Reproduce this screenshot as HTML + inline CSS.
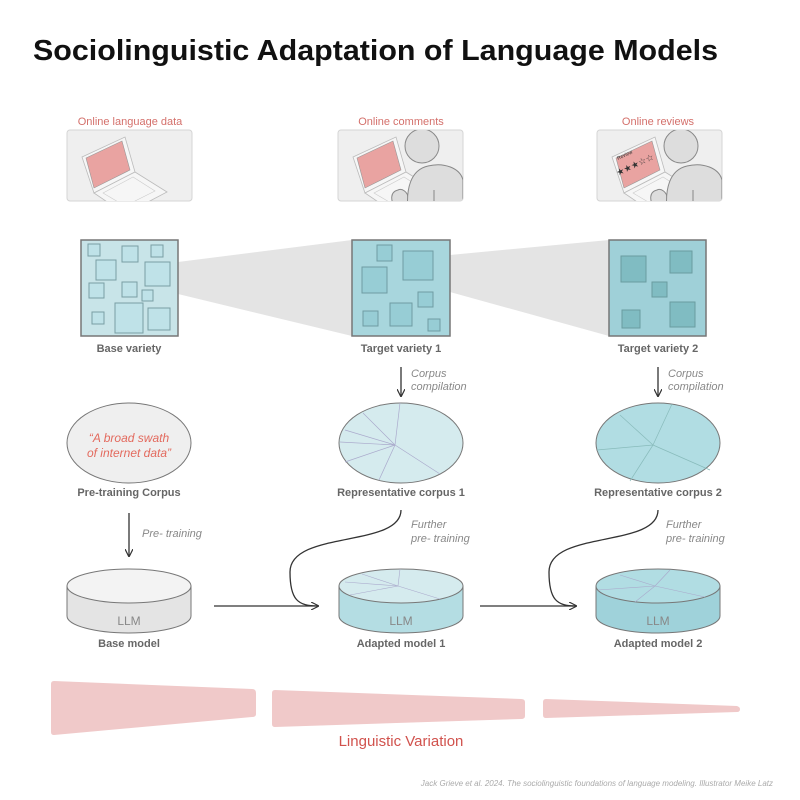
<!DOCTYPE html>
<html><head><meta charset="utf-8"><style>
html,body{margin:0;padding:0;background:#fff}
svg{display:block}
text{font-family:"Liberation Sans",sans-serif}
</style></head><body>
<svg width="800" height="800" viewBox="0 0 800 800" xmlns="http://www.w3.org/2000/svg">
<defs>
<marker id="ah" markerWidth="8" markerHeight="8" refX="7" refY="4" orient="auto" markerUnits="userSpaceOnUse"><path d="M0,0 L8,4 L0,8" fill="none" stroke="#333" stroke-width="1.2"/></marker>
<clipPath id="bc"><rect x="0" y="0" width="125" height="71" rx="3"/></clipPath>
<g id="laptop">
<rect x="0" y="0" width="125" height="71" rx="3" fill="#efefef" stroke="#d4d4d4"/>
<g clip-path="url(#bc)">
<polygon points="15,27 58,7 68,42 27,63" fill="#f6f6f6" stroke="#bbb" stroke-width="0.8"/>
<polygon points="19,28 55,11 63,40 27,58" fill="#e9a3a1" stroke="#999" stroke-width="0.6"/>
<polygon points="27,63 68,42 100,62 58,84" fill="#f6f6f6" stroke="#bbb" stroke-width="0.8"/>
<polygon points="36,63 66,47 88,61 58,76" fill="none" stroke="#ccc" stroke-width="0.6"/>
</g>
</g>
<g id="person">
<g clip-path="url(#bc)">
<path d="M58,80 C52,70 52,62 60,60 C64,58 70,62 70,68 L72,80 Z" fill="#ddd" stroke="#888"/>
<path d="M70,80 C68,60 72,40 90,36 C106,32 122,38 125,50 L125,80 Z" fill="#ddd" stroke="#888"/>
<line x1="96" y1="60" x2="96" y2="72" stroke="#888"/>
<circle cx="84" cy="16" r="17" fill="#ddd" stroke="#888"/>
</g>
</g>
</defs>

<text x="33" y="60" font-size="29" font-weight="bold" fill="#111" textLength="685" lengthAdjust="spacingAndGlyphs">Sociolinguistic Adaptation of Language Models</text>

<g font-size="11" fill="#d4706b" text-anchor="middle">
<text x="130" y="125">Online language data</text>
<text x="401" y="125">Online comments</text>
<text x="658" y="125">Online reviews</text>
</g>
<use href="#laptop" x="67" y="130"/>
<use href="#laptop" x="338" y="130"/><use href="#person" x="338" y="130"/>
<use href="#laptop" x="597" y="130"/><use href="#person" x="597" y="130"/>
<text x="618" y="160" font-size="5" fill="#333" transform="rotate(-25 618 160)">Review</text>
<text x="618" y="176" font-size="9" fill="#333" transform="rotate(-25 618 176)">★★★☆☆</text>

<!-- projection wedges -->
<polygon points="178,262 352,240 352,336 178,294" fill="#e4e4e4"/>
<polygon points="450,255 609,240 609,336 450,292" fill="#e4e4e4"/>

<!-- variety squares -->
<rect x="81" y="240" width="97" height="96" fill="#c8e4e8" stroke="#777" stroke-width="1.5"/>
<g fill="#bfe2e8" stroke="#7a9ea3">
<rect x="88" y="244" width="12" height="12"/><rect x="122" y="246" width="16" height="16"/><rect x="151" y="245" width="12" height="12"/>
<rect x="96" y="260" width="20" height="20"/><rect x="145" y="262" width="25" height="24"/>
<rect x="89" y="283" width="15" height="15"/><rect x="122" y="282" width="15" height="15"/><rect x="142" y="290" width="11" height="11"/>
<rect x="92" y="312" width="12" height="12"/><rect x="115" y="303" width="28" height="30"/><rect x="148" y="308" width="22" height="22"/>
</g>
<rect x="352" y="240" width="98" height="96" fill="#a8d6dd" stroke="#777" stroke-width="1.5"/>
<g fill="#97cdd5" stroke="#6f9ca2">
<rect x="377" y="245" width="15" height="16"/><rect x="403" y="251" width="30" height="29"/><rect x="362" y="267" width="25" height="26"/>
<rect x="418" y="292" width="15" height="15"/><rect x="390" y="303" width="22" height="23"/><rect x="363" y="311" width="15" height="15"/><rect x="428" y="319" width="12" height="12"/>
</g>
<rect x="609" y="240" width="97" height="96" fill="#9fd0d8" stroke="#777" stroke-width="1.5"/>
<g fill="#80bcc2" stroke="#6a9ca0">
<rect x="621" y="256" width="25" height="26"/><rect x="670" y="251" width="22" height="22"/><rect x="652" y="282" width="15" height="15"/>
<rect x="622" y="310" width="18" height="18"/><rect x="670" y="302" width="25" height="25"/>
</g>

<g font-size="11" font-weight="bold" fill="#666" text-anchor="middle">
<text x="129" y="352">Base variety</text>
<text x="401" y="352">Target variety 1</text>
<text x="658" y="352">Target variety 2</text>
<text x="129" y="496">Pre-training Corpus</text>
<text x="401" y="496">Representative corpus 1</text>
<text x="658" y="496">Representative corpus 2</text>
<text x="129" y="647">Base model</text>
<text x="401" y="647">Adapted model 1</text>
<text x="658" y="647">Adapted model 2</text>
</g>

<g stroke="#333" stroke-width="1.3" fill="none">
<line x1="401" y1="367" x2="401" y2="396" marker-end="url(#ah)"/>
<line x1="658" y1="367" x2="658" y2="396" marker-end="url(#ah)"/>
<line x1="129" y1="513" x2="129" y2="556" marker-end="url(#ah)"/>
<line x1="214" y1="606" x2="318" y2="606" marker-end="url(#ah)"/>
<line x1="480" y1="606" x2="576" y2="606" marker-end="url(#ah)"/>
<path d="M401,510 C401,548 290,530 290,572 C290,600 298,606 318,606"/>
<path d="M658,510 C658,548 549,530 549,572 C549,600 557,606 576,606"/>
</g>
<g font-size="11" font-style="italic" fill="#888">
<text x="411" y="377">Corpus</text><text x="411" y="390">compilation</text>
<text x="668" y="377">Corpus</text><text x="668" y="390">compilation</text>
<text x="142" y="537">Pre- training</text>
<text x="411" y="528">Further</text><text x="411" y="542">pre- training</text>
<text x="666" y="528">Further</text><text x="666" y="542">pre- training</text>
</g>

<!-- corpora -->
<ellipse cx="129" cy="443" rx="62" ry="40" fill="#efefef" stroke="#777"/>
<text x="129" y="442" font-size="12" font-style="italic" fill="#e36a5e" text-anchor="middle">“A broad swath</text>
<text x="129" y="457" font-size="12" font-style="italic" fill="#e36a5e" text-anchor="middle">of internet data”</text>
<ellipse cx="401" cy="443" rx="62" ry="40" fill="#d5ebee" stroke="#777"/>
<g stroke="#aac" stroke-width="0.7"><line x1="395" y1="445" x2="363" y2="413"/><line x1="395" y1="445" x2="345" y2="430"/><line x1="395" y1="445" x2="340" y2="442"/><line x1="395" y1="445" x2="345" y2="462"/><line x1="395" y1="445" x2="379" y2="480"/><line x1="395" y1="445" x2="400" y2="403"/><line x1="395" y1="445" x2="440" y2="474"/></g>
<ellipse cx="658" cy="443" rx="62" ry="40" fill="#b1dde3" stroke="#777"/>
<g stroke="#8bb" stroke-width="0.7"><line x1="653" y1="445" x2="620" y2="415"/><line x1="653" y1="445" x2="597" y2="450"/><line x1="653" y1="445" x2="630" y2="481"/><line x1="653" y1="445" x2="710" y2="470"/><line x1="653" y1="445" x2="672" y2="404"/></g>

<!-- cylinders -->
<g stroke="#777">
<path d="M67,586 L67,616 A62,17 0 0 0 191,616 L191,586 Z" fill="#e4e4e4"/>
<ellipse cx="129" cy="586" rx="62" ry="17" fill="#f3f3f3"/>
<path d="M339,586 L339,616 A62,17 0 0 0 463,616 L463,586 Z" fill="#b4dde3"/>
<ellipse cx="401" cy="586" rx="62" ry="17" fill="#d5ebee"/>
<path d="M596,586 L596,616 A62,17 0 0 0 720,616 L720,586 Z" fill="#9fd2da"/>
<ellipse cx="658" cy="586" rx="62" ry="17" fill="#b1dde3"/>
</g>
<g stroke="#aac" stroke-width="0.6">
<line x1="398" y1="586" x2="362" y2="574"/><line x1="398" y1="586" x2="345" y2="582"/><line x1="398" y1="586" x2="350" y2="595"/><line x1="398" y1="586" x2="400" y2="569"/><line x1="398" y1="586" x2="440" y2="599"/>
<line x1="655" y1="586" x2="620" y2="575"/><line x1="655" y1="586" x2="598" y2="590"/><line x1="655" y1="586" x2="635" y2="602"/><line x1="655" y1="586" x2="705" y2="597"/><line x1="655" y1="586" x2="670" y2="570"/>
</g>
<g font-size="12" fill="#888" text-anchor="middle">
<text x="129" y="625">LLM</text><text x="401" y="625">LLM</text><text x="658" y="625">LLM</text>
</g>

<!-- variation wedges -->
<g fill="#f0c9c9">
<path d="M54,681 L252,689 Q256,689 256,693 L256,714 Q256,717 252,717 L54,735 Q51,735 51,732 L51,684 Q51,681 54,681 Z"/>
<path d="M275,690 L521,699 Q525,699 525,702 L525,716 Q525,719 521,719 L275,727 Q272,727 272,724 L272,693 Q272,690 275,690 Z"/>
<path d="M546,699 L737,706 Q740,707 740,709 Q740,712 737,712 L546,718 Q543,718 543,715 L543,702 Q543,699 546,699 Z"/>
</g>
<text x="401" y="746" font-size="15" fill="#d1524d" text-anchor="middle">Linguistic Variation</text>
<text x="773" y="786" font-size="8" font-style="italic" fill="#aaa" text-anchor="end">Jack Grieve et al. 2024. The sociolinguistic foundations of language modeling. Illustrator Meike Latz</text>
</svg>
</body></html>
